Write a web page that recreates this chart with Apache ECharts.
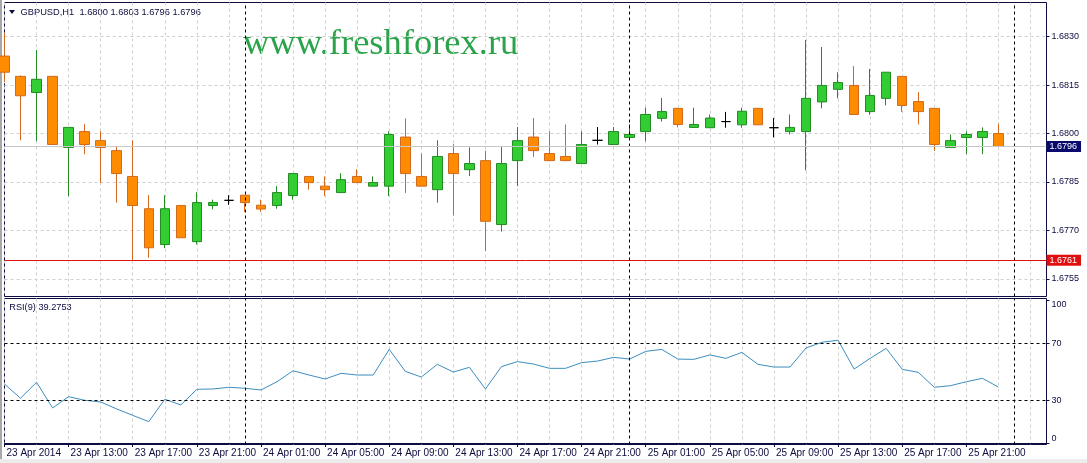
<!DOCTYPE html>
<html><head><meta charset="utf-8">
<script src="https://cdn.jsdelivr.net/npm/echarts@6/dist/echarts.min.js"></script>
<style>html,body{margin:0;padding:0;background:#fff;}#c{width:1087px;height:463px;}</style>
</head><body><div id="c"></div>
<script>
const categories = [
 '23 Apr 09:00','23 Apr 10:00','23 Apr 11:00','23 Apr 12:00','23 Apr 13:00','23 Apr 14:00','23 Apr 15:00','23 Apr 16:00',
 '23 Apr 17:00','23 Apr 18:00','23 Apr 19:00','23 Apr 20:00','23 Apr 21:00','23 Apr 22:00','23 Apr 23:00',
 '24 Apr 00:00','24 Apr 01:00','24 Apr 02:00','24 Apr 03:00','24 Apr 04:00','24 Apr 05:00','24 Apr 06:00','24 Apr 07:00',
 '24 Apr 08:00','24 Apr 09:00','24 Apr 10:00','24 Apr 11:00','24 Apr 12:00','24 Apr 13:00','24 Apr 14:00','24 Apr 15:00',
 '24 Apr 16:00','24 Apr 17:00','24 Apr 18:00','24 Apr 19:00','24 Apr 20:00','24 Apr 21:00','24 Apr 22:00','24 Apr 23:00',
 '25 Apr 00:00','25 Apr 01:00','25 Apr 02:00','25 Apr 03:00','25 Apr 04:00','25 Apr 05:00','25 Apr 06:00','25 Apr 07:00',
 '25 Apr 08:00','25 Apr 09:00','25 Apr 10:00','25 Apr 11:00','25 Apr 12:00','25 Apr 13:00','25 Apr 14:00','25 Apr 15:00',
 '25 Apr 16:00','25 Apr 17:00','25 Apr 18:00','25 Apr 19:00','25 Apr 20:00','25 Apr 21:00','25 Apr 22:00','25 Apr 23:00',
 '26 Apr 00:00','26 Apr 01:00','26 Apr 02:00'
];
const opens = [1.68240,1.68177,1.68127,1.68177,1.67957,1.68006,1.67978,1.67947,1.67867,1.67767,
 1.67656,1.67777,1.67665,1.67777,1.67793,1.67809,1.67778,1.67777,1.67808,1.67867,
 1.67837,1.67817,1.67867,1.67837,1.67837,1.67989,1.67867,1.67826,1.67938,1.67888,
 1.67916,1.67718,1.67916,1.67989,1.67938,1.67929,1.67907,1.67979,1.67966,1.67988,
 1.68006,1.68047,1.68078,1.68019,1.68018,1.68037,1.68027,1.68078,1.68018,1.68006,
 1.68006,1.68098,1.68137,1.68149,1.68068,1.68109,1.68177,1.68099,1.68078,1.67957,
 1.67988,1.67988,1.68000];
const closes = [1.68190,1.68117,1.68168,1.67966,1.68019,1.67966,1.67957,1.67876,1.67777,1.67646,
 1.67767,1.67677,1.67786,1.67786,1.67793,1.67786,1.67766,1.67817,1.67876,1.67848,
 1.67826,1.67857,1.67848,1.67848,1.67997,1.67876,1.67837,1.67929,1.67876,1.67907,
 1.67728,1.67907,1.67978,1.67947,1.67916,1.67916,1.67966,1.67979,1.68006,1.67997,
 1.68059,1.68068,1.68028,1.68028,1.68048,1.68037,1.68069,1.68027,1.68018,1.68019,
 1.68109,1.68149,1.68158,1.68059,1.68118,1.68190,1.68087,1.68068,1.67966,1.67978,
 1.67997,1.68006,1.67960];
const lows = [1.68160,1.67979,1.67977,1.67966,1.67806,1.67936,1.67847,1.67786,1.67607,1.67615,
 1.67645,1.67677,1.67656,1.67765,1.67779,1.67757,1.67757,1.67767,1.67795,1.67826,
 1.67806,1.67817,1.67848,1.67837,1.67806,1.67816,1.67837,1.67786,1.67746,1.67868,
 1.67636,1.67696,1.67837,1.67928,1.67916,1.67916,1.67907,1.67966,1.67966,1.67988,
 1.67976,1.68037,1.68019,1.68019,1.68018,1.68018,1.68018,1.68027,1.67988,1.67997,
 1.67886,1.68078,1.68109,1.68059,1.68058,1.68087,1.68067,1.68028,1.67946,1.67957,
 1.67936,1.67936,1.67960];
const highs = [1.68311,1.68180,1.68259,1.68177,1.68019,1.68029,1.68007,1.67959,1.67979,1.67809,
 1.67809,1.67777,1.67818,1.67795,1.67809,1.67809,1.67795,1.67837,1.67876,1.67867,
 1.67867,1.67877,1.67889,1.67867,1.68007,1.68047,1.67938,1.67979,1.67967,1.67957,
 1.67947,1.67958,1.68020,1.68048,1.68007,1.68028,1.68007,1.68020,1.68020,1.68029,
 1.68080,1.68110,1.68078,1.68080,1.68059,1.68067,1.68080,1.68078,1.68048,1.68059,
 1.68290,1.68268,1.68190,1.68209,1.68200,1.68190,1.68177,1.68128,1.68078,1.67997,
 1.68007,1.68019,1.68030];
const rsi = [41.4,31.4,42.6,24.6,32.5,30.0,28.8,23.9,19.4,15.0,
 30.7,26.7,37.7,37.9,39.1,38.4,37.2,43.0,50.7,47.7,
 44.9,48.9,47.7,47.7,65.7,50.3,46.3,55.2,49.8,53.1,
 37.9,53.6,57.1,55.4,52.4,52.4,56.4,57.5,60.1,58.9,
 64.3,65.7,58.9,58.7,61.8,59.4,63.6,55.2,53.3,53.3,
 66.7,70.7,72.1,51.9,59.4,66.4,51.7,49.6,39.1,40.2,
 43.0,45.4,39.2753];
const tickLabels = ['23 Apr 2014','23 Apr 13:00','23 Apr 17:00','23 Apr 21:00','24 Apr 01:00','24 Apr 05:00',
 '24 Apr 09:00','24 Apr 13:00','24 Apr 17:00','24 Apr 21:00','25 Apr 01:00','25 Apr 05:00',
 '25 Apr 09:00','25 Apr 13:00','25 Apr 17:00','25 Apr 21:00'];
const priceTicks = [1.6755, 1.6770, 1.6785, 1.6800, 1.6815, 1.6830];
const rsiTicks = [0, 30, 70, 100];
const rsiLevels = [70, 30];
const daySeparators = ['24 Apr 00:00', '25 Apr 00:00', '26 Apr 00:00'];
const bidPrice = 1.6796;
const lowLine = 1.67607;
const headerText = 'GBPUSD,H1  1.6800 1.6803 1.6796 1.6796';
const rsiTitle = 'RSI(9) 39.2753';
const watermark = 'www.freshforex.ru';

const NAVY = '#0c0c40';
const FONT = 'Liberation Sans';
const candleData = opens.map((o, i) => {
  const item = { value: [o, closes[i], lows[i], highs[i]] };
  if (o === closes[i]) item.itemStyle = { borderColor: '#000', borderColor0: '#000', color: '#000', color0: '#000' };
  return item;
});
const sepLines = daySeparators.map(d => ({ xAxis: d }));
const gridSplit = { show: true, interval: (i) => i % 2 === 0, lineStyle: { color: '#cfcfcf', type: [3, 3], width: 1 } };

const chart = echarts.init(document.getElementById('c'), null, { renderer: 'canvas' });
chart.setOption({
  animation: false,
  backgroundColor: '#ffffff',
  grid: [
    { left: 4.5, right: 40.5, top: 2.5, height: 294, show: true, borderColor: NAVY, borderWidth: 1, backgroundColor: 'transparent' },
    { left: 4.5, right: 40.5, top: 298.5, height: 146, show: true, borderColor: NAVY, borderWidth: 1, backgroundColor: 'transparent' }
  ],
  xAxis: [
    { type: 'category', gridIndex: 0, data: categories, boundaryGap: false,
      axisLine: { show: false }, axisTick: { show: false }, axisLabel: { show: false }, splitLine: gridSplit },
    { type: 'category', gridIndex: 1, data: categories, boundaryGap: false,
      axisLine: { show: true, lineStyle: { color: NAVY } },
      axisTick: { show: true, length: 4, interval: (i) => i % 4 === 0 && i <= 60, lineStyle: { color: NAVY } },
      axisLabel: { show: true, interval: 3, margin: 4, align: 'left', padding: [0, 0, 0, 2],
        fontFamily: FONT, fontSize: 10, color: NAVY,
        formatter: (v, i) => (i % 4 === 0 && tickLabels[i / 4]) ? tickLabels[i / 4] : '' },
      splitLine: gridSplit }
  ],
  yAxis: [
    { type: 'value', gridIndex: 0, position: 'right', min: 1.67495, max: 1.68406, scale: true,
      axisLine: { show: false },
      axisTick: { show: true, length: 3, customValues: priceTicks, lineStyle: { color: NAVY } },
      axisLabel: { show: true, customValues: priceTicks, margin: 5, fontFamily: FONT, fontSize: 9, color: NAVY,
        formatter: v => Number(v).toFixed(4) },
      splitLine: { show: true, lineStyle: { color: '#cfcfcf', type: [3, 3], width: 1 } } },
    { type: 'value', gridIndex: 1, position: 'right', min: -1.05, max: 101.4,
      axisLine: { show: false },
      axisTick: { show: true, length: 3, customValues: rsiTicks, lineStyle: { color: NAVY } },
      axisLabel: { show: true, customValues: rsiTicks, margin: 5, fontFamily: FONT, fontSize: 9, color: NAVY,
        verticalAlignMinLabel: 'bottom', verticalAlignMaxLabel: 'top' },
      splitLine: { show: false } }
  ],
  series: [
    { type: 'candlestick', xAxisIndex: 0, yAxisIndex: 0, barWidth: 10, clip: true,
      data: candleData,
      itemStyle: { color: '#32CD32', color0: '#FF8C00', borderColor: '#228B22', borderColor0: '#D2691E', borderWidth: 1,
        borderColorDoji: '#000' },
      markLine: { silent: true, symbol: 'none', animation: false, precision: 5,
        data: [
          ...sepLines.map(d => Object.assign({}, d, { lineStyle: { color: '#000', type: [3, 3], width: 1 }, label: { show: false } })),
          { yAxis: bidPrice, lineStyle: { color: '#c8c8c8', type: 'solid', width: 1 },
            label: { show: true, position: 'end', distance: 0, formatter: p => Number(p.value).toFixed(4),
              backgroundColor: '#0a0a6e', color: '#fff', fontFamily: FONT, fontSize: 9, padding: [1, 4, 1, 3] } },
          { yAxis: lowLine, lineStyle: { color: '#e01010', type: 'solid', width: 1 },
            label: { show: true, position: 'end', distance: 0, formatter: p => Number(p.value).toFixed(4),
              backgroundColor: '#e01010', color: '#fff', fontFamily: FONT, fontSize: 9, padding: [1, 4, 1, 3] } }
        ] } },
    { type: 'line', xAxisIndex: 1, yAxisIndex: 1, data: rsi, symbol: 'none', showSymbol: false,
      lineStyle: { color: '#3d8ebf', width: 1 },
      markLine: { silent: true, symbol: 'none', animation: false, label: { show: false },
        data: [
          ...sepLines.map(d => Object.assign({}, d, { lineStyle: { color: '#000', type: [3, 3], width: 1 } })),
          ...rsiLevels.map(v => ({ yAxis: v, lineStyle: { color: '#000', type: [3, 3], width: 1 } }))
        ] } }
  ],
  graphic: [
    { type: 'rect', left: 0, top: 0, shape: { width: 2, height: 463 }, style: { fill: '#a8a8a8' }, silent: true },
    { type: 'rect', left: 0, top: 459, shape: { width: 1087, height: 4 }, style: { fill: '#ececec' }, silent: true },
    { type: 'polygon', shape: { points: [[9, 10], [15, 10], [12, 14]] }, style: { fill: NAVY }, silent: true },
    { type: 'text', x: 20.5, y: 12, style: { text: headerText, font: '9.3px "Liberation Sans"', fill: NAVY, verticalAlign: 'middle' }, silent: true },
    { type: 'text', x: 9.3, y: 307.5, style: { text: rsiTitle, font: '9.2px "Liberation Sans"', fill: NAVY, verticalAlign: 'middle' }, silent: true },
    { type: 'text', x: 243, y: 44.5, style: { text: watermark, font: '36.5px "Liberation Serif"', fill: '#2aa34a', verticalAlign: 'middle' }, silent: true }
  ]
});
</script></body></html>
